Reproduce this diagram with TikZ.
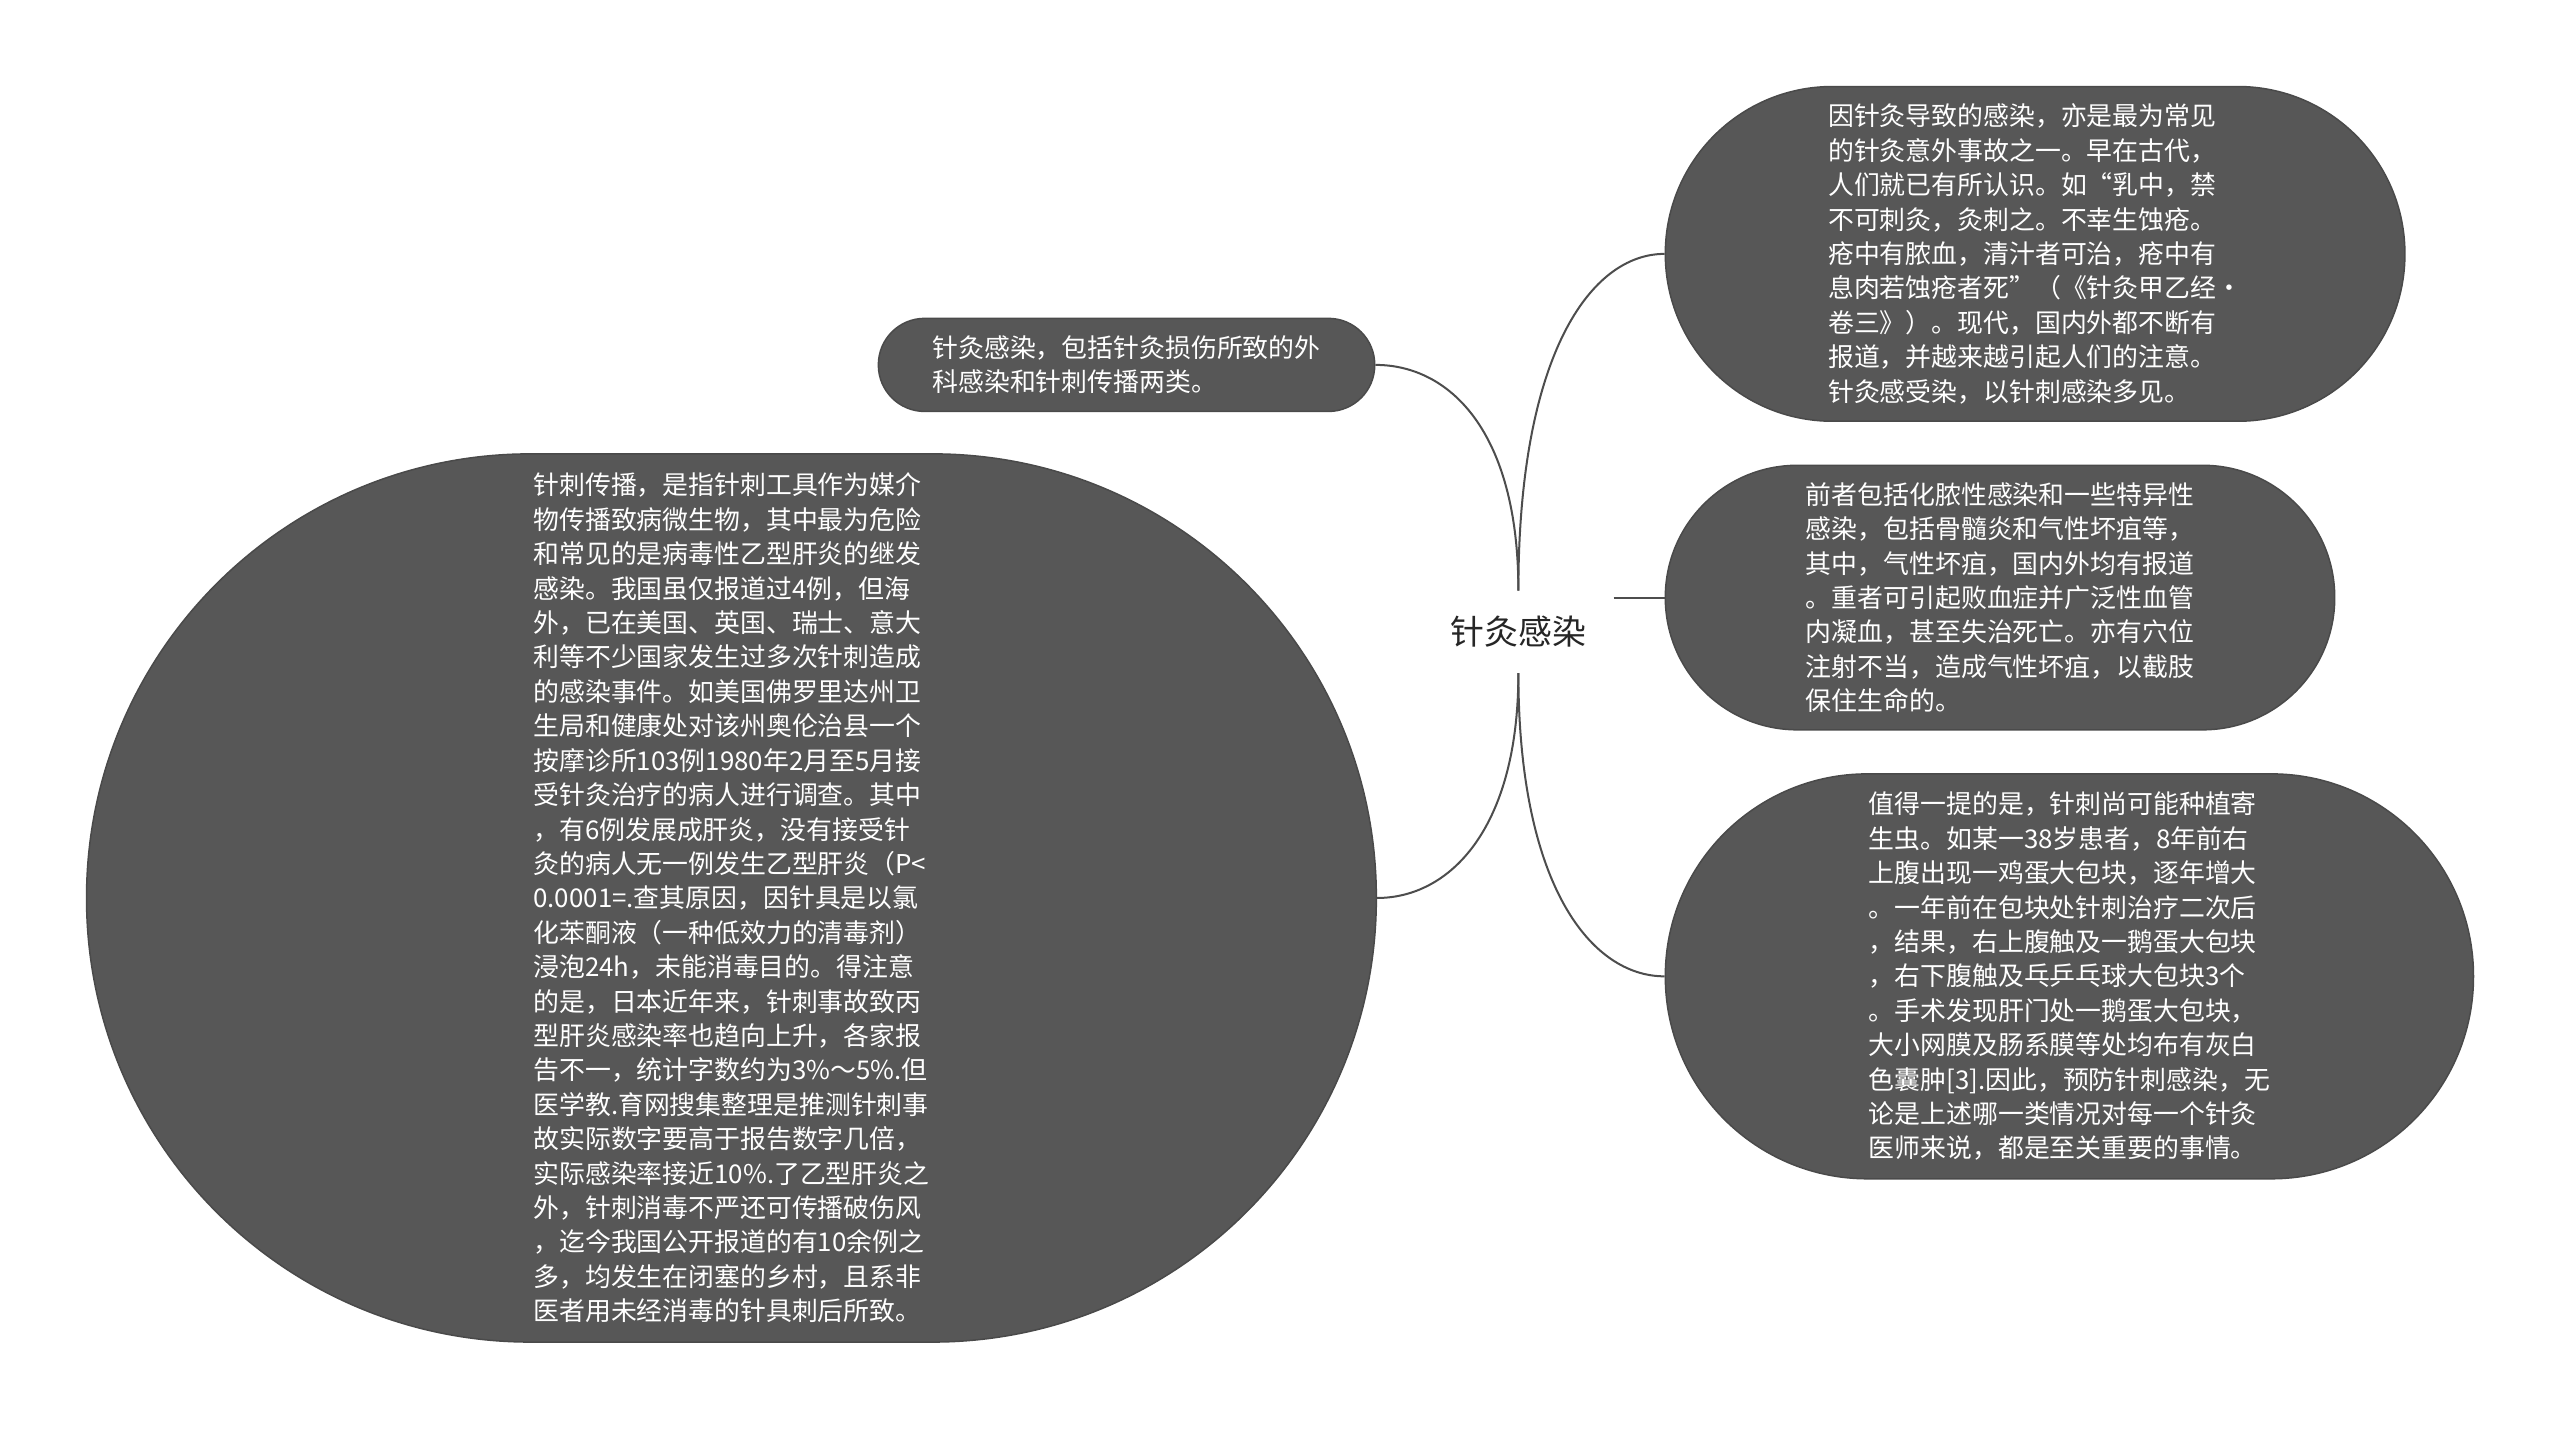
\documentclass[tikz,border=0pt]{standalone}
\usepackage{fontspec}
\setmainfont{Noto Sans CJK SC}
\usepackage{tikz}
\definecolor{topicgray}{HTML}{575757}
\definecolor{topicedge}{HTML}{4A4A4A}
\definecolor{linegray}{HTML}{4D4D4D}

\begin{document}
\begin{tikzpicture}[x=0.65pt, y=-0.65pt,
        topic/.style={rectangle, fill=topicgray, draw=topicedge, line width=0.6pt,
        text=white, align=left, inner sep=0pt, font=\fontsize{10.3}{13.7}\selectfont},
        bubble/.style 2 args={minimum width=#1*0.65pt, minimum height=#2*0.65pt, rounded corners=#2*0.325pt-0.1pt},
        central/.style={rectangle, inner sep=0pt, text=black!85, minimum width=116*0.65pt,
        minimum height=50*0.65pt, font=\fontsize{13.5}{16}\selectfont},
        branch/.style={draw=linegray, line width=0.8pt}]
        \useasboundingbox (0,0) rectangle (1568,875);

        \node (root) [central] at (930,387) {针灸感染};

        \node (surgical) [topic, bubble={304}{57}] at (690,223.5)
        {
            针灸感染，包括针灸损伤所致的外\\科感染和针刺传播两类。
        };

        \node (needlespread) [topic, bubble={790}{544}] at (448,550)
        {
            针刺传播，是指针刺工具作为媒介\\
            物传播致病微生物，其中最为危险\\
            和常见的是病毒性乙型肝炎的继发\\
            感染。我国虽仅报道过4例，但海\\
            外，已在美国、英国、瑞士、意大\\
            利等不少国家发生过多次针刺造成\\
            的感染事件。如美国佛罗里达州卫\\
            生局和健康处对该州奥伦治县一个\\
            按摩诊所103例1980年2月至5月接\\
            受针灸治疗的病人进行调查。其中\\
            ，有6例发展成肝炎，没有接受针\\
            灸的病人无一例发生乙型肝炎（P<\\
            0.0001=.查其原因，因针具是以氯\\
            化苯酮液（一种低效力的清毒剂）\\
            浸泡24h，未能消毒目的。得注意\\
            的是，日本近年来，针刺事故致丙\\
            型肝炎感染率也趋向上升，各家报\\
            告不一，统计字数约为3\%～5\%.但\\
            医学教.育网搜集整理是推测针刺事\\
            故实际数字要高于报告数字几倍，\\
            实际感染率接近10\%.了乙型肝炎之\\
            外，针刺消毒不严还可传播破伤风\\
            ，迄今我国公开报道的有10余例之\\
            多，均发生在闭塞的乡村，且系非\\
            医者用未经消毒的针具刺后所致。
        };

        \node (cause) [topic, bubble={453}{205}] at (1246.5,155.5)
        {
            因针灸导致的感染，亦是最为常见\\
            的针灸意外事故之一。早在古代，\\
            人们就已有所认识。如“乳中，禁\\
            不可刺灸，灸刺之。不幸生蚀疮。\\
            疮中有脓血，清汁者可治，疮中有\\
            息肉若蚀疮者死”（《针灸甲乙经·\\
            卷三》）。现代，国内外都不断有\\
            报道，并越来越引起人们的注意。\\
            针灸感受染，以针刺感染多见。
        };

        \node (kinds) [topic, bubble={410}{162}] at (1225,366)
        {
            前者包括化脓性感染和一些特异性\\
            感染，包括骨髓炎和气性坏疽等，\\
            其中，气性坏疽，国内外均有报道\\
            。重者可引起败血症并广泛性血管\\
            内凝血，甚至失治死亡。亦有穴位\\
            注射不当，造成气性坏疽，以截肢\\
            保住生命的。
        };

        \node (parasite) [topic, bubble={495}{248}] at (1267.5,598)
        {
            值得一提的是，针刺尚可能种植寄\\
            生虫。如某一38岁患者，8年前右\\
            上腹出现一鸡蛋大包块，逐年增大\\
            。一年前在包块处针刺治疗二次后\\
            ，结果，右上腹触及一鹅蛋大包块\\
            ，右下腹触及乓乒乓球大包块3个\\
            。手术发现肝门处一鹅蛋大包块，\\
            大小网膜及肠系膜等处均布有灰白\\
            色囊肿[3].因此，预防针刺感染，无\\
            论是上述哪一类情况对每一个针灸\\
            医师来说，都是至关重要的事情。
        };

        \draw [branch] (root.north) .. controls +(0,-98) and +(45,0) .. (surgical.east);
        \draw [branch] (root.north) .. controls +(0,-145) and +(-45,0) .. (cause.west);
        \draw [branch] (root.east |- kinds.west) -- (kinds.west);
        \draw [branch] (root.south) .. controls +(0,96) and +(44,0) .. (needlespread.east);
        \draw [branch] (root.south) .. controls +(0,130) and +(-45,0) .. (parasite.west);
    \end{tikzpicture}
\end{document}
